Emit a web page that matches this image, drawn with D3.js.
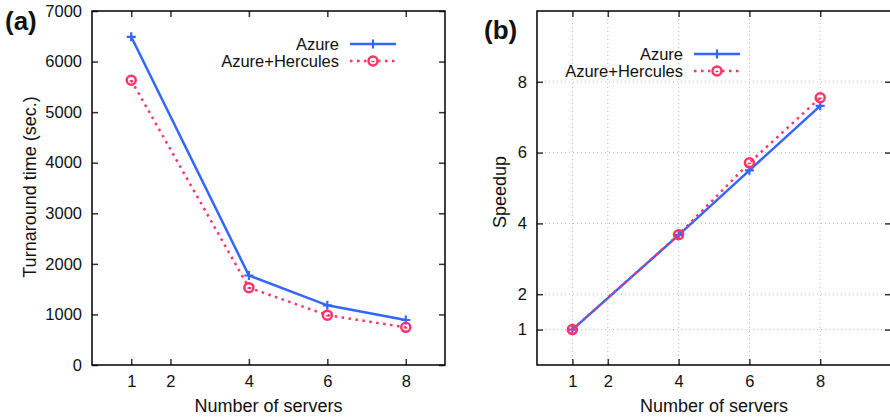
<!DOCTYPE html>
<html>
<head>
<meta charset="utf-8">
<script src="https://cdn.jsdelivr.net/npm/d3@7"></script>
<style>
  body { margin: 0; background: #fff; }
  svg { display: block; font-family: "Liberation Sans", Arial, sans-serif; }
</style>
</head>
<body>
<svg id="chart" width="890" height="419"></svg>
<script>
// data
const servers = [1, 4, 6, 8];
const azureTime = [6490, 1770, 1180, 890];
const herculesTime = [5630, 1530, 985, 745];
const azureSpeedup = [1, 3.67, 5.5, 7.32];
const herculesSpeedup = [1, 3.68, 5.71, 7.55];
const xTicks = [1, 2, 4, 6, 8];
const timeTicks = [0, 1000, 2000, 3000, 4000, 5000, 6000, 7000];
const speedupTicks = [1, 2, 4, 6, 8];
const seriesNames = ["Azure", "Azure+Hercules"];

const BLUE = "#3366ff";
const PINK = "#ff3366";
const FONT = "Liberation Sans, Arial, sans-serif";

const svg = d3.select("#chart");

function plus(cx, cy, s) {
  return `M${cx - s},${cy}H${cx + s}M${cx},${cy - s}V${cy + s}`;
}

function panel(opts) {
  const g = svg.append("g");
  const x = d3.scaleLinear().domain(opts.xDomain).range([opts.left, opts.right]);
  const y = d3.scaleLinear().domain(opts.yDomain).range([opts.bottom, opts.top]);

  // dotted grid (only right panel)
  if (opts.grid) {
    g.append("g").selectAll("line").data(xTicks).join("line")
      .attr("x1", d => x(d)).attr("x2", d => x(d))
      .attr("y1", opts.top).attr("y2", opts.bottom)
      .attr("stroke", "#bbb").attr("stroke-width", 1).attr("stroke-dasharray", "1,3");
    g.append("g").selectAll("line").data(opts.yTicks).join("line")
      .attr("x1", opts.left).attr("x2", opts.right)
      .attr("y1", d => y(d)).attr("y2", d => y(d))
      .attr("stroke", "#bbb").attr("stroke-width", 1).attr("stroke-dasharray", "1,3");
  }

  // axes with inward ticks, mirrored on top / right
  const tick = 6;
  const fmt = d3.format("d");
  g.append("g").attr("transform", `translate(0,${opts.bottom})`)
    .call(d3.axisBottom(x).tickValues(xTicks).tickFormat(fmt).tickSizeInner(-tick).tickSizeOuter(0).tickPadding(10))
    .call(a => a.select(".domain").remove());
  g.append("g").attr("transform", `translate(0,${opts.top})`)
    .call(d3.axisTop(x).tickValues(xTicks).tickSizeInner(-tick).tickSizeOuter(0).tickFormat(""))
    .call(a => a.select(".domain").remove());
  g.append("g").attr("transform", `translate(${opts.left},0)`)
    .call(d3.axisLeft(y).tickValues(opts.yTicks).tickFormat(fmt).tickSizeInner(-tick).tickSizeOuter(0).tickPadding(10))
    .call(a => a.select(".domain").remove());
  g.append("g").attr("transform", `translate(${opts.right},0)`)
    .call(d3.axisRight(y).tickValues(opts.yTicks).tickSizeInner(-tick).tickSizeOuter(0).tickFormat(""))
    .call(a => a.select(".domain").remove());
  g.selectAll(".tick line").attr("stroke", "#333").attr("stroke-width", 1.5);
  g.selectAll(".tick text").attr("font-size", 16.5).attr("fill", "#111").attr("font-family", FONT);

  g.append("rect")
    .attr("x", opts.left).attr("y", opts.top)
    .attr("width", opts.right - opts.left).attr("height", opts.bottom - opts.top)
    .attr("fill", "none").attr("stroke", "#000").attr("stroke-width", 1.5);

  const line = d3.line().x((d, i) => x(servers[i])).y(d => y(d));

  // Azure: solid with plus
  g.append("path").datum(opts.a).attr("d", line)
    .attr("fill", "none").attr("stroke", BLUE).attr("stroke-width", 2.5);
  g.selectAll("path.plus").data(opts.a).join("path")
    .attr("class", "plus")
    .attr("d", (d, i) => plus(x(servers[i]), y(d), 4.5))
    .attr("stroke", BLUE).attr("stroke-width", 2.2);

  // Azure+Hercules: dotted with circles
  g.append("path").datum(opts.h).attr("d", line)
    .attr("fill", "none").attr("stroke", PINK).attr("stroke-width", 2.5)
    .attr("stroke-dasharray", "2.5,4.5");
  const mk = g.selectAll("g.circ").data(opts.h).join("g")
    .attr("class", "circ")
    .attr("transform", (d, i) => `translate(${x(servers[i])},${y(d)})`);
  mk.append("circle").attr("r", 4.5).attr("fill", "none")
    .attr("stroke", PINK).attr("stroke-width", 2.5);
  mk.append("path").attr("d", "M-1.5,0.5H1.5").attr("stroke", PINK).attr("stroke-width", 1.5);

  // legend
  const lg = g.append("g").attr("font-size", 16.5).attr("fill", "#111");
  seriesNames.forEach((name, i) => {
    const ly = opts.legendY + i * 17;
    lg.append("text").attr("x", opts.legendX).attr("y", ly + 6)
      .attr("text-anchor", "end").text(name);
    const x0 = opts.legendX + 11, x1 = x0 + 46, xm = (x0 + x1) / 2;
    if (i === 0) {
      lg.append("line").attr("x1", x0).attr("x2", x1).attr("y1", ly).attr("y2", ly)
        .attr("stroke", BLUE).attr("stroke-width", 2.5);
      lg.append("path").attr("d", plus(xm, ly, 4.5))
        .attr("stroke", BLUE).attr("stroke-width", 2.2);
    } else {
      lg.append("line").attr("x1", x0).attr("x2", x1).attr("y1", ly).attr("y2", ly)
        .attr("stroke", PINK).attr("stroke-width", 2.5).attr("stroke-dasharray", "2.5,4.5");
      lg.append("circle").attr("cx", xm).attr("cy", ly).attr("r", 4.5)
        .attr("fill", "#fff").attr("stroke", PINK).attr("stroke-width", 2.5);
      lg.append("path").attr("d", `M${xm - 1.5},${ly + 0.5}H${xm + 1.5}`)
        .attr("stroke", PINK).attr("stroke-width", 1.5);
    }
  });

  // titles
  g.append("text").attr("x", (opts.left + opts.right) / 2).attr("y", 411.5)
    .attr("text-anchor", "middle").attr("font-size", 18).attr("fill", "#111")
    .text("Number of servers");
  g.append("text")
    .attr("transform", `translate(${opts.yLabelX},${opts.yLabelY}) rotate(-90)`)
    .attr("text-anchor", "middle").attr("font-size", 18).attr("fill", "#111")
    .text(opts.yLabel);
  g.append("text").attr("x", opts.tagX).attr("y", opts.tagY)
    .attr("font-size", 26).attr("font-weight", "bold").attr("fill", "#111")
    .text(opts.tag);
}

panel({
  left: 92, right: 445, top: 11, bottom: 365,
  xDomain: [0, 9], yDomain: [0, 7000], yTicks: timeTicks,
  a: azureTime, h: herculesTime, grid: false,
  legendX: 339, legendY: 44,
  yLabel: "Turnaround time (sec.)", yLabelX: 36, yLabelY: 187,
  tag: "(a)", tagX: 5, tagY: 30
});

panel({
  left: 537, right: 891, top: 11, bottom: 365,
  xDomain: [0, 10], yDomain: [0, 10], yTicks: speedupTicks,
  a: azureSpeedup, h: herculesSpeedup, grid: true,
  legendX: 683, legendY: 54,
  yLabel: "Speedup", yLabelX: 506, yLabelY: 192,
  tag: "(b)", tagX: 484, tagY: 39
});
</script>
</body>
</html>
